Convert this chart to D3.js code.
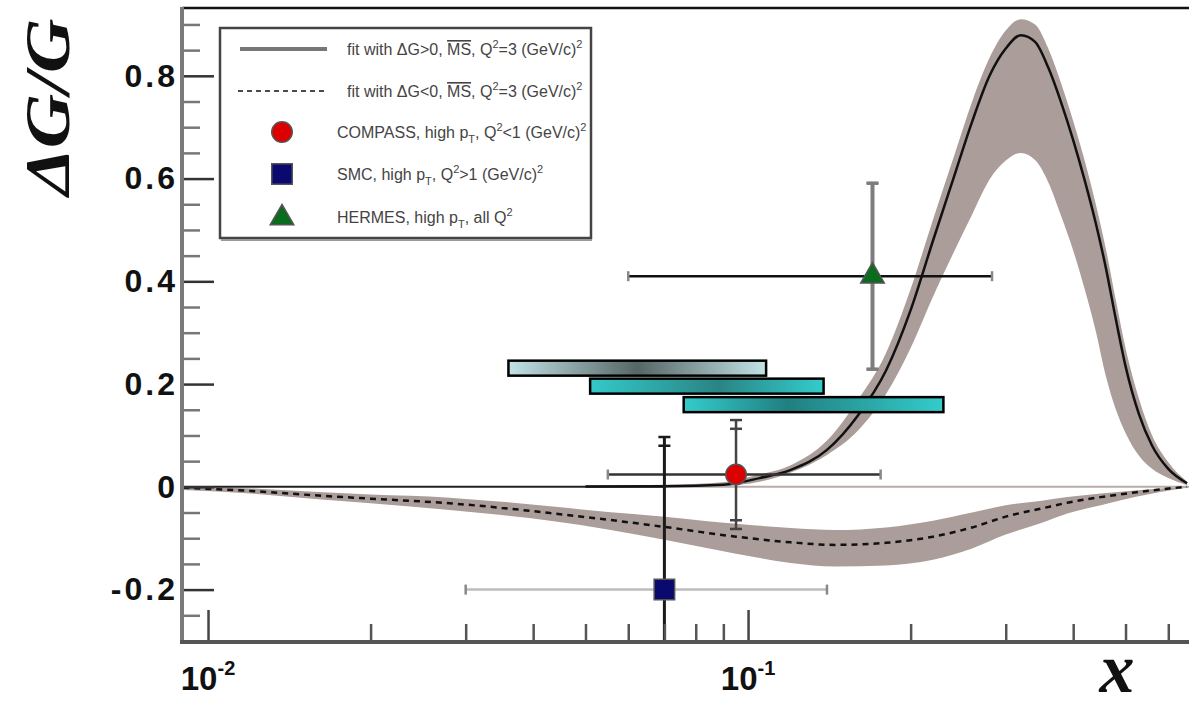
<!DOCTYPE html>
<html>
<head>
<meta charset="utf-8">
<script src="https://cdnjs.cloudflare.com/ajax/libs/d3/7.8.5/d3.min.js"></script>
<style>
body { margin: 0; background: #fff; }
svg { display: block; }
</style>
</head>
<body>
<div id="chart"></div>
<script>
// fit with dG>0 : central line and error band
var posX  = [0.05, 0.07, 0.09, 0.105, 0.12, 0.14, 0.16, 0.18, 0.2, 0.22, 0.24, 0.26, 0.28, 0.3, 0.32, 0.34, 0.36, 0.38, 0.4, 0.42, 0.44, 0.46, 0.48, 0.5, 0.53, 0.56, 0.6, 0.65];
var posY  = [0.0005, 0.001, 0.004, 0.017, 0.033, 0.072, 0.14, 0.226, 0.344, 0.479, 0.60, 0.711, 0.80, 0.853, 0.879, 0.866, 0.815, 0.748, 0.675, 0.597, 0.515, 0.425, 0.325, 0.235, 0.14, 0.08, 0.035, 0.007];
var posHi = [0.002, 0.004, 0.009, 0.024, 0.042, 0.09, 0.17, 0.26, 0.385, 0.52, 0.64, 0.75, 0.835, 0.888, 0.91, 0.9, 0.852, 0.785, 0.712, 0.635, 0.552, 0.462, 0.362, 0.27, 0.17, 0.1, 0.048, 0.01];
var posLo = [0, 0, 0.002, 0.01, 0.028, 0.062, 0.11, 0.18, 0.27, 0.37, 0.455, 0.53, 0.598, 0.635, 0.65, 0.636, 0.592, 0.527, 0.46, 0.385, 0.305, 0.215, 0.15, 0.105, 0.06, 0.035, 0.017, 0.003];

// fit with dG<0
var negX  = [0.009, 0.012, 0.016, 0.02, 0.028, 0.035, 0.043, 0.055, 0.07, 0.095, 0.12, 0.145, 0.18, 0.22, 0.26, 0.3, 0.35, 0.39, 0.45, 0.52, 0.58, 0.65];
var negY  = [-0.002, -0.008, -0.017, -0.023, -0.032, -0.041, -0.051, -0.064, -0.078, -0.097, -0.108, -0.113, -0.109, -0.097, -0.079, -0.058, -0.042, -0.031, -0.02, -0.011, -0.005, 0];
var negHi = [0, -0.003, -0.01, -0.015, -0.021, -0.029, -0.038, -0.049, -0.058, -0.072, -0.08, -0.084, -0.079, -0.066, -0.05, -0.036, -0.027, -0.02, -0.013, -0.007, -0.003, 0];
var negLo = [-0.006, -0.013, -0.024, -0.032, -0.045, -0.055, -0.066, -0.083, -0.103, -0.13, -0.148, -0.155, -0.153, -0.142, -0.12, -0.093, -0.07, -0.052, -0.036, -0.02, -0.01, -0.002];

// measurements: x, dG/G, x range, stat and total error
var pointNames = ["COMPASS", "SMC", "HERMES"];
var pointX     = [0.095, 0.07, 0.17];
var pointY     = [0.024, -0.20, 0.41];
var pointXlo   = [0.055, 0.03, 0.06];
var pointXhi   = [0.176, 0.14, 0.283];
var pointStat  = [0.089, 0.28, 0.18];
var pointTot   = [0.106, 0.297, 0.182];

// the three cyan bands
var barX0 = [0.036, 0.051, 0.076];
var barX1 = [0.108, 0.138, 0.23];
var barY  = [0.231, 0.196, 0.16];

var yTicks = [-0.2, 0, 0.2, 0.4, 0.6, 0.8];
var yTickLabels = ["-0.2", "0", "0.2", "0.4", "0.6", "0.8"];
var yMinor = [-0.3, -0.25, -0.15, -0.1, -0.05, 0.05, 0.1, 0.15, 0.25, 0.3, 0.35, 0.45, 0.5, 0.55, 0.65, 0.7, 0.75, 0.85, 0.9];
var xTicks = [0.01, 0.1];
var xTickExp = ["-2", "-1"];
var xMinor = [0.02, 0.03, 0.04, 0.05, 0.06, 0.07, 0.08, 0.09, 0.2, 0.3, 0.4, 0.5, 0.6];

var legendLabels = [
	[{t: "fit with \u0394G>0, "}, {t: "MS", over: true}, {t: ", Q"}, {t: "2", sup: true}, {t: "=3 (GeV/c)"}, {t: "2", sup: true}],
	[{t: "fit with \u0394G<0, "}, {t: "MS", over: true}, {t: ", Q"}, {t: "2", sup: true}, {t: "=3 (GeV/c)"}, {t: "2", sup: true}],
	[{t: "COMPASS, high p"}, {t: "T", sub: true}, {t: ", Q"}, {t: "2", sup: true}, {t: "<1 (GeV/c)"}, {t: "2", sup: true}],
	[{t: "SMC, high p"}, {t: "T", sub: true}, {t: ", Q"}, {t: "2", sup: true}, {t: ">1 (GeV/c)"}, {t: "2", sup: true}],
	[{t: "HERMES, high p"}, {t: "T", sub: true}, {t: ", all Q"}, {t: "2", sup: true}]
];

var W = 1189, H = 709;
var pL = 182, pT = 8, pB = 642, pR = 1189;

var x = d3.scaleLog().domain([0.00895, 0.6554]).range([pL, pR]);
var y = d3.scaleLinear().domain([-0.302, 0.932]).range([pB, pT]);

var svg = d3.select("#chart").append("svg")
	.attr("width", W)
	.attr("height", H)
	.style("font-family", "'Liberation Sans', Arial, sans-serif");

svg.append("defs").append("clipPath").attr("id", "plot")
	.append("rect").attr("x", pL).attr("y", pT).attr("width", pR - pL).attr("height", pB - pT);

// gradients for the bars
var grads = [
	[["0%", "#c2e2e5"], ["50%", "#566666"], ["100%", "#c2e2e5"]],
	[["0%", "#34c9c9"], ["55%", "#2a8484"], ["100%", "#34cccc"]],
	[["0%", "#34cccc"], ["40%", "#217f80"], ["100%", "#34cccc"]]
];
grads.forEach(function(stops, i) {
	var g = svg.select("defs").append("linearGradient").attr("id", "bar" + i)
		.attr("x1", "0%").attr("x2", "100%").attr("y1", "0%").attr("y2", "0%");
	stops.forEach(function(s) {
		g.append("stop").attr("offset", s[0]).attr("stop-color", s[1]);
	});
});

var plot = svg.append("g").attr("clip-path", "url(#plot)");

function band(xs, lo, hi) {
	var pts = xs.map(function(d, i) { return {x: d, lo: lo[i], hi: hi[i]}; });
	return d3.area()
		.x(function(d) { return x(d.x); })
		.y0(function(d) { return y(d.lo); })
		.y1(function(d) { return y(d.hi); })
		.curve(d3.curveMonotoneX)(pts);
}
function curve(xs, ys) {
	var pts = xs.map(function(d, i) { return [d, ys[i]]; });
	return d3.line()
		.x(function(d) { return x(d[0]); })
		.y(function(d) { return y(d[1]); })
		.curve(d3.curveMonotoneX)(pts);
}

var bandColor = "#ab9d99";
plot.append("path").attr("d", band(negX, negLo, negHi)).attr("fill", bandColor);
plot.append("path").attr("d", band(posX, posLo, posHi)).attr("fill", bandColor);

// zero line
plot.append("line")
	.attr("x1", pL).attr("x2", x(0.07)).attr("y1", y(0)).attr("y2", y(0))
	.attr("stroke", "#222").attr("stroke-width", 2);
plot.append("line")
	.attr("x1", x(0.07)).attr("x2", pR).attr("y1", y(0)).attr("y2", y(0))
	.attr("stroke", "#b9adaa").attr("stroke-width", 2);

plot.append("path").attr("d", curve(negX, negY))
	.attr("fill", "none").attr("stroke", "#111").attr("stroke-width", 2.5)
	.attr("stroke-dasharray", "6,5");
plot.append("path").attr("d", curve(posX, posY))
	.attr("fill", "none").attr("stroke", "#111").attr("stroke-width", 2.5);

// bars
barY.forEach(function(v, i) {
	plot.append("rect")
		.attr("x", x(barX0[i]))
		.attr("y", y(v) - 7.5)
		.attr("width", x(barX1[i]) - x(barX0[i]))
		.attr("height", 15)
		.attr("fill", "url(#bar" + i + ")")
		.attr("stroke", "#000")
		.attr("stroke-width", 2.5);
});

// error bars
var hColor = ["#333", "#bdbdbd", "#111"];
var vColor = ["#444", "#1a1a1a", "#7d7d7d"];
var vWidth = [2.5, 3, 4];
pointX.forEach(function(px, i) {
	var cx = x(px), cy = y(pointY[i]);
	plot.append("line")
		.attr("x1", x(pointXlo[i])).attr("x2", x(pointXhi[i]))
		.attr("y1", cy).attr("y2", cy)
		.attr("stroke", hColor[i]).attr("stroke-width", 2.5);
	[pointXlo[i], pointXhi[i]].forEach(function(e) {
		plot.append("line")
			.attr("x1", x(e)).attr("x2", x(e)).attr("y1", cy - 5).attr("y2", cy + 5)
			.attr("stroke", "#888").attr("stroke-width", 2.5);
	});
	plot.append("line")
		.attr("x1", cx).attr("x2", cx)
		.attr("y1", y(pointY[i] + pointTot[i])).attr("y2", y(pointY[i] - pointTot[i]))
		.attr("stroke", vColor[i]).attr("stroke-width", vWidth[i]);
	[pointStat[i], pointTot[i], -pointStat[i], -pointTot[i]].forEach(function(e) {
		plot.append("line")
			.attr("x1", cx - 6).attr("x2", cx + 6)
			.attr("y1", y(pointY[i] + e)).attr("y2", y(pointY[i] + e))
			.attr("stroke", vColor[i]).attr("stroke-width", 2.5);
	});
});

// markers
var symbols = [d3.symbolCircle, d3.symbolSquare, d3.symbolTriangle];
var symSize = [330, 420, 240];
var symFill = ["#dd0000", "#0a0a6e", "#0b6b1e"];
function marker(g, i, cx, cy) {
	g.append("path")
		.attr("d", d3.symbol().type(symbols[i]).size(symSize[i])())
		.attr("transform", "translate(" + cx + "," + cy + ")")
		.attr("fill", symFill[i])
		.attr("stroke", "#555")
		.attr("stroke-width", 1.5);
}
pointX.forEach(function(px, i) {
	marker(plot, i, x(px), y(pointY[i]));
});

// legend
var leg = svg.append("g");
leg.append("rect").attr("x", 220).attr("y", 28).attr("width", 371).attr("height", 210)
	.attr("fill", "#fff").attr("stroke", "#444").attr("stroke-width", 2.5);
leg.append("line").attr("x1", 221).attr("x2", 592).attr("y1", 240).attr("y2", 240)
	.attr("stroke", "#999").attr("stroke-width", 2);
var rowY = [49, 91, 132, 174, 217];
leg.append("line").attr("x1", 240).attr("x2", 327).attr("y1", rowY[0]).attr("y2", rowY[0])
	.attr("stroke", "#777").attr("stroke-width", 4);
leg.append("line").attr("x1", 238).attr("x2", 327).attr("y1", rowY[1]).attr("y2", rowY[1])
	.attr("stroke", "#111").attr("stroke-width", 1.5).attr("stroke-dasharray", "5,4");
marker(leg, 0, 282, rowY[2]);
marker(leg, 1, 282, rowY[3]);
marker(leg, 2, 282, rowY[4] + 1);

legendLabels.forEach(function(parts, r) {
	var t = leg.append("text")
		.attr("x", r < 2 ? 347 : 337)
		.attr("y", rowY[r] + 6)
		.attr("fill", "#444")
		.style("font-size", "16px");
	var shift = 0;
	parts.forEach(function(p) {
		var dy = 0;
		if (p.sup) dy = -7 - shift;
		else if (p.sub) dy = 5 - shift;
		else dy = -shift;
		shift += dy;
		var s = t.append("tspan").attr("dy", dy).text(p.t);
		if (p.sup || p.sub) s.style("font-size", "11px");
		if (p.over) s.style("text-decoration", "overline");
	});
});

// ticks
var axL = svg.append("g").attr("transform", "translate(" + pL + ",0)");
axL.call(d3.axisLeft(y).tickValues(yMinor).tickSize(-18).tickSizeOuter(0).tickFormat(""));
axL.select(".domain").remove();
axL.selectAll("line").attr("stroke", "#777").attr("stroke-width", 2.5);

var axL2 = svg.append("g").attr("transform", "translate(" + pL + ",0)");
axL2.call(d3.axisLeft(y).tickValues(yTicks).tickSize(-32).tickSizeOuter(0).tickPadding(4)
	.tickFormat(function(d, i) { return yTickLabels[i]; }));
axL2.select(".domain").remove();
axL2.selectAll("line").attr("stroke", "#333").attr("stroke-width", 2.5);
axL2.selectAll("text")
	.attr("fill", "#111")
	.style("font-family", "'Liberation Sans', Arial, sans-serif")
	.style("font-weight", "bold")
	.style("font-size", "32px")
	.style("letter-spacing", "3px");

var axB = svg.append("g").attr("transform", "translate(0," + pB + ")");
axB.call(d3.axisBottom(x).tickValues(xMinor).tickSize(-18).tickSizeOuter(0).tickFormat(""));
axB.select(".domain").remove();
axB.selectAll("line").attr("stroke", "#555").attr("stroke-width", 2.5);

var axB2 = svg.append("g").attr("transform", "translate(0," + pB + ")");
axB2.call(d3.axisBottom(x).tickValues(xTicks).tickSize(-32).tickSizeOuter(0).tickFormat(""));
axB2.select(".domain").remove();
axB2.selectAll("line").attr("stroke", "#444").attr("stroke-width", 2.5);

xTicks.forEach(function(v, i) {
	var t = svg.append("text")
		.attr("x", x(v))
		.attr("y", 690)
		.attr("text-anchor", "middle")
		.attr("fill", "#111")
		.style("font-weight", "bold")
		.style("font-size", "33px");
	t.append("tspan").text("10");
	t.append("tspan").attr("dy", -15).style("font-size", "20px").text(xTickExp[i]);
});

// frame
svg.append("line").attr("x1", pL).attr("x2", pR).attr("y1", pT).attr("y2", pT)
	.attr("stroke", "#111").attr("stroke-width", 2.5);
svg.append("line").attr("x1", pL).attr("x2", pL).attr("y1", pT - 1).attr("y2", pB + 2)
	.attr("stroke", "#7a7a7a").attr("stroke-width", 4);
svg.append("line").attr("x1", pL - 2).attr("x2", pR).attr("y1", pB).attr("y2", pB)
	.attr("stroke", "#555").attr("stroke-width", 4);

// axis titles
svg.append("text")
	.attr("transform", "translate(69,107) rotate(-90)")
	.attr("text-anchor", "middle")
	.attr("fill", "#111")
	.attr("textLength", 177)
	.attr("lengthAdjust", "spacingAndGlyphs")
	.style("font-family", "'Liberation Serif', 'Times New Roman', serif")
	.style("font-style", "italic")
	.style("font-weight", "bold")
	.style("font-size", "64px")
	.text("\u0394G/G");

svg.append("text")
	.attr("x", 1117)
	.attr("y", 692)
	.attr("text-anchor", "middle")
	.attr("fill", "#111")
	.style("font-family", "'Liberation Serif', 'Times New Roman', serif")
	.style("font-style", "italic")
	.style("font-weight", "bold")
	.style("font-size", "70px")
	.text("x");
</script>
</body>
</html>
